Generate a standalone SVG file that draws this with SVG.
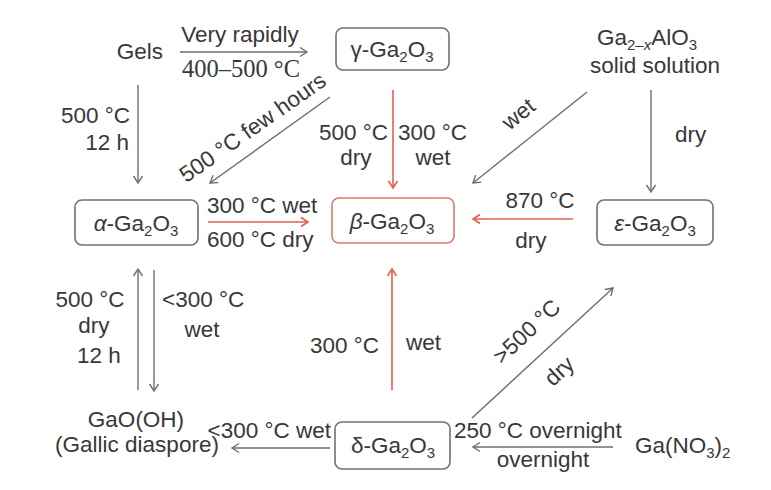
<svg xmlns="http://www.w3.org/2000/svg" width="771" height="490" viewBox="0 0 771 490">
<defs>
<style>
text{font-family:"Liberation Sans",Arial,sans-serif;font-size:22.5px;fill:#383838}
.serif{font-family:"Liberation Serif","Times New Roman",serif;font-size:24.5px}
.sub{font-size:15px}
.it{font-style:italic}
.box{fill:#fff;stroke:#707070;stroke-width:1.6}
.rbox{fill:#fff;stroke:#e0786c;stroke-width:1.6}
.g{stroke:#6e6e6e;stroke-width:1.4;fill:none;marker-end:url(#ag)}
.r{stroke:#e0604e;stroke-width:1.6;fill:none;marker-end:url(#ar)}
</style>
<marker id="ag" markerUnits="userSpaceOnUse" markerWidth="12" markerHeight="12" refX="9" refY="6" orient="auto"><path d="M2,1.5 L9,6 L2,10.5" fill="none" stroke="#6e6e6e" stroke-width="1.4"/></marker>
<marker id="ar" markerUnits="userSpaceOnUse" markerWidth="12" markerHeight="12" refX="9" refY="6" orient="auto"><path d="M2,1.5 L9,6 L2,10.5" fill="none" stroke="#e0604e" stroke-width="1.6"/></marker>
</defs>
<rect width="771" height="490" fill="#fff"/>

<g id="connectors">
<line class="g" x1="180" y1="52" x2="307" y2="52"/>
<line class="g" x1="138" y1="85" x2="138" y2="183"/>
<line class="g" x1="330" y1="97" x2="210" y2="183"/>
<line class="r" x1="393" y1="90" x2="393" y2="188"/>
<line class="g" x1="587" y1="92" x2="473" y2="183"/>
<line class="g" x1="651" y1="90" x2="651" y2="192"/>
<line class="r" x1="573" y1="219" x2="473" y2="219"/>
<line class="r" x1="208" y1="222" x2="308" y2="222"/>
<line class="g" x1="138" y1="390" x2="138" y2="269"/>
<line class="g" x1="154" y1="270" x2="154" y2="391"/>
<line class="r" x1="392" y1="390" x2="392" y2="269"/>
<line class="g" x1="330" y1="448" x2="232" y2="448"/>
<line class="g" x1="472" y1="418" x2="613" y2="288"/>
<line class="g" x1="613" y1="447" x2="473" y2="447"/>
</g>

<g id="labels">
<text x="240" y="42" text-anchor="middle">Very rapidly</text>
<text class="serif" x="241" y="77" text-anchor="middle">400–500 °C</text>
<text x="130" y="123" text-anchor="end">500 °C</text>
<text x="129" y="150" text-anchor="end">12 h</text>
<text transform="translate(253,128) rotate(-35)" y="7" text-anchor="middle">500 °C few hours</text>
<text x="388" y="140" text-anchor="end">500 °C</text>
<text x="356" y="165" text-anchor="middle">dry</text>
<text x="398" y="140">300 °C</text>
<text x="433" y="165" text-anchor="middle">wet</text>
<text transform="translate(520,116) rotate(-39)" y="5" text-anchor="middle">wet</text>
<text x="675" y="142">dry</text>
<text x="540" y="208" text-anchor="middle">870 °C</text>
<text x="531" y="248" text-anchor="middle">dry</text>
<text x="207" y="213">300 °C wet</text>
<text x="207" y="247">600 °C dry</text>
<text x="90" y="307" text-anchor="middle">500 °C</text>
<text x="94" y="333" text-anchor="middle">dry</text>
<text x="99" y="363" text-anchor="middle">12 h</text>
<text x="162" y="307">&lt;300 °C</text>
<text x="202" y="337" text-anchor="middle">wet</text>
<text x="379" y="353" text-anchor="end">300 °C</text>
<text x="406" y="350">wet</text>
<text x="331" y="438" text-anchor="end">&lt;300 °C wet</text>
<text transform="translate(527,332) rotate(-43)" y="7" text-anchor="middle">&gt;500 °C</text>
<text transform="translate(561,373) rotate(-43)" y="5" text-anchor="middle">dry</text>
<text x="454" y="438">250 °C overnight</text>
<text x="543" y="467" text-anchor="middle">overnight</text>
</g>

<g id="gels"><text x="140" y="59" text-anchor="middle">Gels</text></g>

<g id="gamma">
<rect class="box" x="336" y="28" width="113" height="42" rx="7"/>
<text x="392" y="57" text-anchor="middle">γ-Ga<tspan class="sub" dy="5">2</tspan><tspan dy="-5">O</tspan><tspan class="sub" dy="5">3</tspan></text>
</g>

<g id="ga2xalo3">
<text x="647" y="45" text-anchor="middle">Ga<tspan class="sub" dy="5">2–<tspan class="it">x</tspan></tspan><tspan dy="-5">AlO</tspan><tspan class="sub" dy="5">3</tspan></text>
<text x="655" y="73" text-anchor="middle">solid solution</text>
</g>

<g id="alpha">
<rect class="box" x="75" y="200" width="123" height="45" rx="7"/>
<text x="136" y="231" text-anchor="middle"><tspan class="it">α</tspan>-Ga<tspan class="sub" dy="5">2</tspan><tspan dy="-5">O</tspan><tspan class="sub" dy="5">3</tspan></text>
</g>

<g id="beta">
<rect class="rbox" x="332" y="198" width="122" height="45" rx="7"/>
<text x="392" y="229" text-anchor="middle"><tspan class="it">β</tspan>-Ga<tspan class="sub" dy="5">2</tspan><tspan dy="-5">O</tspan><tspan class="sub" dy="5">3</tspan></text>
</g>

<g id="epsilon">
<rect class="box" x="597" y="200" width="116" height="45" rx="7"/>
<text x="655" y="231" text-anchor="middle"><tspan class="it">ε</tspan>-Ga<tspan class="sub" dy="5">2</tspan><tspan dy="-5">O</tspan><tspan class="sub" dy="5">3</tspan></text>
</g>

<g id="gaooh">
<text x="136" y="427" text-anchor="middle">GaO(OH)</text>
<text x="137" y="452" text-anchor="middle">(Gallic diaspore)</text>
</g>

<g id="delta">
<rect class="box" x="335" y="422" width="115" height="47" rx="7"/>
<text x="393" y="453" text-anchor="middle">δ-Ga<tspan class="sub" dy="5">2</tspan><tspan dy="-5">O</tspan><tspan class="sub" dy="5">3</tspan></text>
</g>

<g id="ganitrate">
<text x="635" y="453">Ga(NO<tspan class="sub" dy="5">3</tspan><tspan dy="-5">)</tspan><tspan class="sub" dy="5">2</tspan></text>
</g>
</svg>
